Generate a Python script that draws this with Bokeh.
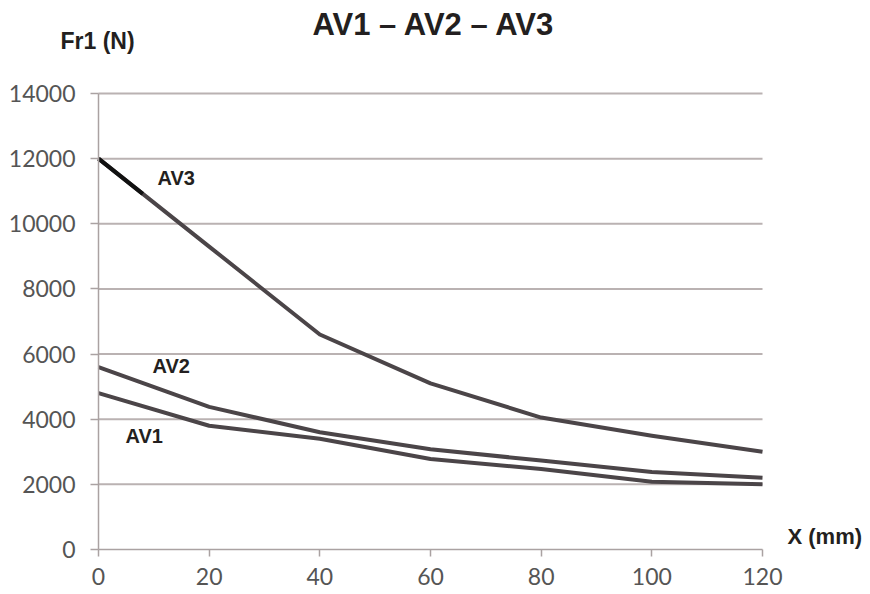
from bokeh.plotting import figure
from bokeh.models import Label, FixedTicker, Range1d, LinearAxis
from bokeh.embed import file_html
from bokeh.resources import INLINE

# ---- data ----
x_mm = [0, 20, 40, 60, 80, 100, 120]
av1 = [4800, 3800, 3400, 2780, 2470, 2080, 2000]
av2 = [5600, 4380, 3600, 3080, 2730, 2380, 2200]
av3 = [12000, 9300, 6600, 5100, 4050, 3490, 3000]
av3_dark_x = [0, 8]
av3_dark_y = [12000, 10920]

x_ticks = [0, 20, 40, 60, 80, 100, 120]
y_ticks = [0, 2000, 4000, 6000, 8000, 10000, 12000, 14000]

title_text = "AV1 \u2013 AV2 \u2013 AV3"
y_title = "Fr1 (N)"
x_title = "X (mm)"
series_labels = ["AV1", "AV2", "AV3"]

LINE = "#4b4548"
GRID = "#bab2b2"
AXIS = "#aaa2a2"
TXT = "#231f20"
BOLD = "Liberation Sans"

# ---- layout: plot area of the reference spans px 98..762 (x 0..120), px 93..549 (y 14000..0)
FX0, FX1, FY0, FY1 = 98, 762, 93, 549
W, H = 862, 592
sx = (FX1 - FX0) / (x_ticks[-1] - x_ticks[0])
sy = (FY1 - FY0) / (y_ticks[-1] - y_ticks[0])
px_x = lambda px: x_ticks[0] + (px - FX0) / sx
px_y = lambda py: y_ticks[0] + (FY1 - py) / sy

p = figure(frame_width=W, frame_height=H, output_backend="svg", toolbar_location=None,
           min_border=0, x_range=Range1d(px_x(0), px_x(W)), y_range=Range1d(px_y(H), px_y(0)),
           x_axis_location=None, y_axis_location=None)
p.title = None
p.outline_line_color = None
p.background_fill_color = "white"
p.border_fill_color = "white"
p.grid.visible = False

xax = LinearAxis(fixed_location=y_ticks[0])
yax = LinearAxis(fixed_location=x_ticks[0])
p.add_layout(xax, "below")
p.add_layout(yax, "left")

# horizontal grid lines restricted to the 0..120 data span
n = len(y_ticks) - 1
p.segment(x0=[x_ticks[0]] * n, x1=[x_ticks[-1]] * n, y0=y_ticks[1:], y1=y_ticks[1:],
          line_color=GRID, line_width=2, level="underlay")

xax.ticker = FixedTicker(ticks=x_ticks)
yax.ticker = FixedTicker(ticks=y_ticks)
xax.bounds = (x_ticks[0], x_ticks[-1])
yax.bounds = (y_ticks[0], y_ticks[-1])
for ax in (xax, yax):
    ax.axis_line_color = AXIS
    ax.axis_line_width = 1.5
    ax.major_tick_line_color = AXIS
    ax.major_tick_line_width = 1.5
    ax.major_tick_in = 0
    ax.minor_tick_line_color = None
    ax.major_label_text_font = "Lato"
    ax.major_label_text_font_size = "23px"
    ax.major_label_text_color = "#555555"
xax.major_tick_out = 7
xax.major_label_standoff = 11
yax.major_tick_out = 8
yax.major_label_standoff = 15

for ys in (av1, av2, av3):
    p.line(x_mm, ys, line_color=LINE, line_width=4, line_join="round")
p.line(av3_dark_x, av3_dark_y, line_color="#111111", line_width=4)

def bold_label(text, px, py, size):
    fix = 0.36 * size  # svg alphabetic baseline correction
    p.add_layout(Label(x=px_x(px), y=px_y(py - fix), text=text, text_font=BOLD,
                       text_font_style="bold", text_font_size=f"{size}px", text_color=TXT,
                       text_baseline="alphabetic"))

# (text, left px, baseline px) as seen in the reference
bold_label(series_labels[2], 157, 185, 20)
bold_label(series_labels[1], 152, 373, 20)
bold_label(series_labels[0], 125, 443, 20)
bold_label(title_text, 312, 35, 31)
bold_label(y_title, 60, 49, 23)
bold_label(x_title, 787, 544, 22)

open("out.html", "w").write(file_html(p, INLINE))
